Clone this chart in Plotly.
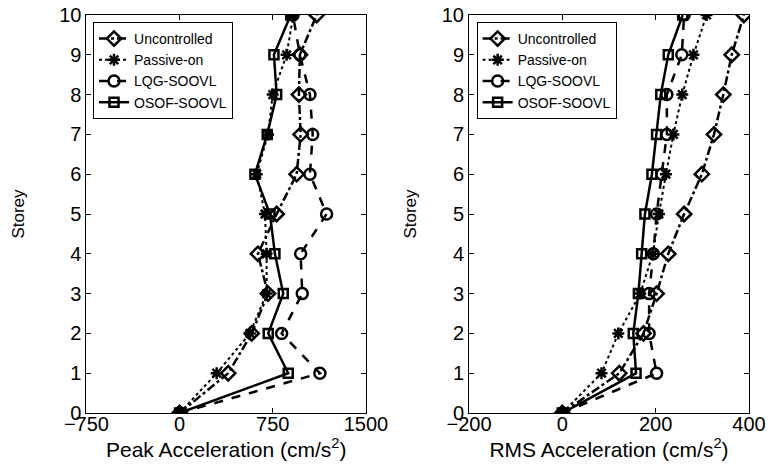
import plotly.graph_objects as go
from plotly.subplots import make_subplots

storey = [0, 1, 2, 3, 4, 5, 6, 7, 8, 9, 10]

# Peak acceleration (cm/s^2)
peak_unc = [0, 391, 580, 711, 630, 781, 942, 974, 960, 968, 1103]
peak_pas = [0, 298, 566, 700, 700, 687, 620, 711, 749, 861, 915]
peak_lqg = [0, 1129, 821, 987, 974, 1183, 1049, 1071, 1049, 968, 912]
peak_osof = [0, 874, 713, 834, 767, 727, 606, 705, 781, 759, 894]

# RMS acceleration (cm/s^2)
rms_unc = [0, 122, 174, 202, 227, 261, 299, 325, 345, 363, 389]
rms_pas = [0, 84, 120, 167, 194, 207, 222, 238, 257, 281, 309]
rms_lqg = [0, 202, 186, 186, 195, 202, 213, 224, 224, 256, 261]
rms_osof = [0, 158, 152, 163, 170, 177, 192, 202, 211, 227, 258]

names = ["Uncontrolled", "Passive-on", "LQG-SOOVL", "OSOF-SOOVL"]
symbols = ["diamond-open", "asterisk-open", "circle-open", "square-open"]
dashes = ["dashdot", "dot", "dash", "solid"]
widths = [2.5, 2, 2.5, 2.5]
sizes = [11, 10, 11, 9]

FONT = "Liberation Sans, Arial, Helvetica, sans-serif"

fig = make_subplots(rows=1, cols=2)

for col, series, leg in [
    (1, [peak_unc, peak_pas, peak_lqg, peak_osof], "legend"),
    (2, [rms_unc, rms_pas, rms_lqg, rms_osof], "legend2"),
]:
    for i, vals in enumerate(series):
        fig.add_trace(
            go.Scatter(
                x=vals, y=storey, mode="lines+markers", name=names[i],
                line=dict(color="black", width=widths[i], dash=dashes[i]),
                marker=dict(symbol=symbols[i], size=sizes[i], color="black",
                            line=dict(color="black", width=2.5)),
                legend=leg,
            ),
            row=1, col=col,
        )

axis_common = dict(
    showgrid=False, zeroline=False, showline=True, linecolor="black", linewidth=1,
    mirror="ticks", ticks="inside", ticklen=5, tickcolor="black", automargin=False,
    ticklabeloverflow="allow",
    tickfont=dict(family=FONT, size=20, color="black"),
)

fig.update_xaxes(**axis_common, ticklabelstandoff=-7)
fig.update_yaxes(**axis_common)

fig.update_layout(
    width=770, height=467,
    margin=dict(l=0, r=0, t=0, b=0, autoexpand=False),
    paper_bgcolor="white", plot_bgcolor="white",
    font=dict(family=FONT, color="black"),
    xaxis=dict(domain=[0.1123, 0.4753], range=[-750, 1500], tickvals=[-750, 0, 750, 1500],
               title=dict(text="Peak Acceleration (cm/s<sup>2</sup>)", font=dict(size=21), standoff=2)),
    xaxis2=dict(domain=[0.6091, 0.9727], range=[-200, 400], tickvals=[-200, 0, 200, 400],
                title=dict(text="RMS Acceleration (cm/s<sup>2</sup>)", font=dict(size=21), standoff=2)),
    yaxis=dict(domain=[0.1156, 0.9679], range=[0, 10], dtick=1,
               title=dict(text="Storey", font=dict(size=17), standoff=30)),
    yaxis2=dict(domain=[0.1156, 0.9679], range=[0, 10], dtick=1,
                title=dict(text="Storey", font=dict(size=17), standoff=20)),
    legend=dict(x=0.1208, y=0.9529, xanchor="left", yanchor="top",
                bgcolor="white", bordercolor="black", borderwidth=1,
                font=dict(family=FONT, size=14), tracegroupgap=0, itemwidth=30),
    legend2=dict(x=0.619, y=0.9529, xanchor="left", yanchor="top",
                 bgcolor="white", bordercolor="black", borderwidth=1,
                 font=dict(family=FONT, size=14), tracegroupgap=0, itemwidth=30),
    showlegend=True,
)

fig.write_html("out.html", config={"displayModeBar": False},
               post_script="document.body.style.margin='0';document.body.style.overflow='hidden';")
